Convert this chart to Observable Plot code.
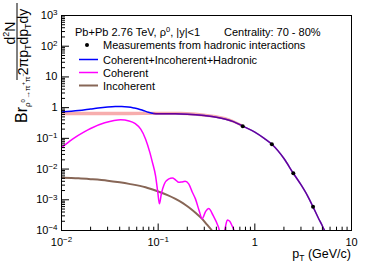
<!DOCTYPE html>
<html><head><meta charset="utf-8">
<script src="https://cdn.jsdelivr.net/npm/d3@7"></script>
<script src="https://cdn.jsdelivr.net/npm/@observablehq/plot@0.6"></script>
<style>body{margin:0;background:#fff} svg{font-family:"Liberation Sans",Arial,sans-serif}</style>
</head><body><div id="chart"></div>
<script>
// Measurements from hadronic interactions
const measPt = [0.75, 1.5, 2.5, 4.0];
const measY  = [0.25, 0.064, 0.0073, 0.00059];

// Coherent+Incoherent+Hadronic (total)
const totalPt = [0.01, 0.015, 0.02, 0.024, 0.03, 0.036, 0.042, 0.049, 0.056, 0.0625, 0.07, 0.079, 0.09, 0.1, 0.15, 0.2, 0.3, 0.4, 0.5, 0.6, 0.75, 1.0, 1.25, 1.5, 2.0, 2.5, 3.0, 3.5, 4.0, 4.5, 5.0, 5.5];
const totalY  = [0.72, 0.80, 0.90, 0.97, 1.04, 1.08, 1.09, 1.05, 0.98, 0.91, 0.81, 0.71, 0.65, 0.635, 0.63, 0.61, 0.55, 0.49, 0.42, 0.35, 0.25, 0.16, 0.10, 0.064, 0.022, 0.0073, 0.0031, 0.00137, 0.00059, 0.00027, 0.00014, 0.000075];

// Hadronic central line (visible where it merges with total)
const hadPt = [0.09, 0.1, 0.15, 0.2, 0.3, 0.4, 0.5, 0.6, 0.75, 1.0, 1.25, 1.5, 2.0, 2.5, 3.0, 3.5, 4.0, 4.5, 5.0, 5.5];
const hadY  = [0.64, 0.635, 0.63, 0.61, 0.55, 0.49, 0.42, 0.35, 0.25, 0.16, 0.10, 0.064, 0.022, 0.0073, 0.0031, 0.00137, 0.00059, 0.00027, 0.00014, 0.000075];

// Hadronic uncertainty band
const bandPt = [0.01, 0.05, 0.1, 0.15, 0.2, 0.3, 0.4, 0.5, 0.6, 0.75];
const bandLo = [0.54, 0.54, 0.55, 0.55, 0.54, 0.49, 0.44, 0.38, 0.31, 0.225];
const bandHi = [0.71, 0.71, 0.71, 0.71, 0.69, 0.62, 0.555, 0.475, 0.39, 0.275];

// Coherent
const cohPt = [0.01, 0.013, 0.017, 0.02, 0.028, 0.035, 0.041, 0.05, 0.058, 0.066, 0.074, 0.082, 0.087, 0.094, 0.099, 0.103, 0.108, 0.115, 0.129, 0.14, 0.152, 0.163, 0.175, 0.19, 0.207, 0.225, 0.243, 0.265, 0.285, 0.31, 0.333, 0.37, 0.42, 0.46, 0.49, 0.52, 0.55, 0.58, 0.61, 0.65];
const cohY  = [0.05, 0.095, 0.16, 0.21, 0.32, 0.38, 0.40, 0.37, 0.30, 0.20, 0.096, 0.035, 0.017, 0.006, 0.0018, 0.00074, 0.0016, 0.0031, 0.0048, 0.0051, 0.0044, 0.0037, 0.0038, 0.0040, 0.0033, 0.0018, 0.00107, 0.00045, 0.00024, 0.00042, 0.00052, 0.00031, 0.00013, 0.00005, 0.00011, 0.00022, 0.0002, 0.000145, 0.0001, 0.00004];

// Incoherent
const incPt = [0.01, 0.015, 0.02, 0.03, 0.04, 0.05, 0.074, 0.1, 0.125, 0.151, 0.18, 0.207, 0.245, 0.285, 0.32, 0.36, 0.4];
const incY  = [0.0052, 0.0050, 0.0047, 0.0042, 0.0037, 0.0033, 0.00257, 0.00186, 0.00142, 0.00107, 0.00078, 0.00057, 0.00037, 0.00024, 0.000155, 0.0001, 0.00006];

// Axes
const xTicks = [0.01, 0.1, 1, 10];
const xTickLabels = ["10^−2", "10^−1", "1", "10"];
const yTicks = [1e-4, 1e-3, 1e-2, 1e-1, 1, 10, 100, 1000];
const yTickLabels = ["10^−4", "10^−3", "10^−2", "10^−1", "1", "10", "10^2", "10^3"];
const xDecades = [0.01, 0.1, 1];
const yDecades = [1e-4, 1e-3, 1e-2, 1e-1, 1, 10, 100];
const minorMult = [2, 3, 4, 5, 6, 7, 8, 9];
const minorX = xDecades.flatMap(d => minorMult.map(k => d * k));
const minorY = yDecades.flatMap(d => minorMult.map(k => d * k));

const pts = (xs, ys) => xs.map((x, i) => ({x, y: ys[i]}));
const band = bandPt.map((x, i) => ({x, lo: bandLo[i], hi: bandHi[i]}));

const chart = Plot.plot({
  width: 374, height: 268,
  marginLeft: 61, marginRight: 23, marginTop: 15, marginBottom: 38,
  x: {type: "log", domain: [0.01, 10]},
  y: {type: "log", domain: [1e-4, 1e3]},
  style: {fontFamily: "Liberation Sans, Arial, sans-serif", fontSize: "11px", color: "black", background: "white"},
  marks: [
    Plot.areaY(band, {x: "x", y1: "lo", y2: "hi", fill: "#f7adad", curve: "monotone-x", clip: true}),
    Plot.line(pts(incPt, incY), {x: "x", y: "y", stroke: "#876656", strokeWidth: 2, curve: "monotone-x", clip: true}),
    Plot.line(pts(cohPt, cohY), {x: "x", y: "y", stroke: "#ff00ff", strokeWidth: 1.5, curve: "monotone-x", clip: true}),
    Plot.line(pts(totalPt, totalY), {x: "x", y: "y", stroke: "#0000ff", strokeWidth: 1.5, curve: "monotone-x", clip: true}),
    Plot.line(pts(hadPt, hadY), {x: "x", y: "y", stroke: "#ff0000", strokeOpacity: 0.4, strokeWidth: 1.5, curve: "monotone-x", clip: true}),
    Plot.dot(pts(measPt, measY), {x: "x", y: "y", r: 2, fill: "black"}),
    Plot.frame({stroke: "black"}),
    Plot.axisX(xTicks, {label: null, tickSize: -6.5, tickPadding: 14, tickFormat: d => xTickLabels[xTicks.indexOf(d)], fontSize: 11}),
    Plot.axisX(minorX, {label: null, tickSize: -3.3, tickFormat: () => ""}),
    Plot.axisY(yTicks, {label: null, tickSize: -8, tickPadding: 12, tickFormat: d => yTickLabels[yTicks.indexOf(d)], fontSize: 11}),
    Plot.axisY(minorY, {label: null, tickSize: -4, tickFormat: () => ""})
  ]
});
document.getElementById("chart").appendChild(chart);

// superscripts in tick labels
chart.querySelectorAll("text").forEach(t => {
  const s = t.textContent;
  if (s.includes("^")) {
    const [base, sup] = s.split("^");
    t.textContent = "";
    const a = document.createElementNS("http://www.w3.org/2000/svg", "tspan");
    a.textContent = base;
    const b = document.createElementNS("http://www.w3.org/2000/svg", "tspan");
    b.textContent = sup; b.setAttribute("dy", "-0.45em"); b.setAttribute("font-size", "8");
    t.appendChild(a); t.appendChild(b);
  }
});

const svg = d3.select(chart);
const ff = "Liberation Sans, Arial, sans-serif";

// X title
const xt = svg.append("text").attr("x", 351).attr("y", 258).attr("text-anchor", "end")
  .attr("font-size", 12.5).attr("font-family", ff).attr("fill", "black");
xt.append("tspan").text("p");
xt.append("tspan").attr("font-size", 8.5).attr("dy", 3).text("T");
xt.append("tspan").attr("dy", -3).text(" (GeV/c)");

// Y title (rotated)
const g = svg.append("g").attr("transform", "translate(0,268) rotate(-90)")
  .attr("font-family", ff).attr("fill", "black");
const br = g.append("text").attr("x", 145).attr("y", 27).attr("font-size", 16).attr("text-anchor", "start");
br.append("tspan").text("Br");
br.append("tspan").attr("font-size", 8).attr("dy", 3).text("ρ");
br.append("tspan").attr("font-size", 6).attr("dy", -5).text("0");
br.append("tspan").attr("font-size", 8).attr("dy", 5).text("→π");
br.append("tspan").attr("font-size", 6).attr("dy", -5).text("+");
br.append("tspan").attr("font-size", 8).attr("dy", 5).text("π");
br.append("tspan").attr("font-size", 6).attr("dy", -5).text("−");
g.append("line").attr("x1", 188).attr("x2", 265).attr("y1", 17).attr("y2", 17).attr("stroke", "black").attr("stroke-width", 1);
const num = g.append("text").attr("x", 235).attr("y", 14.5).attr("text-anchor", "middle").attr("font-size", 14);
num.append("tspan").text("d");
num.append("tspan").attr("font-size", 9).attr("dy", -6).text("2");
num.append("tspan").attr("dy", 6).text("N");
const den = g.append("text").attr("x", 226).attr("y", 28).attr("text-anchor", "middle").attr("font-size", 14);
den.append("tspan").text("2πp");
den.append("tspan").attr("font-size", 9).attr("dy", 3).text("T");
den.append("tspan").attr("dy", -3).text("dp");
den.append("tspan").attr("font-size", 9).attr("dy", 3).text("T");
den.append("tspan").attr("dy", -3).text("dy");

// Legend
const lg = svg.append("g").attr("font-family", ff).attr("font-size", 11).attr("fill", "black").attr("text-anchor", "start");
const h1 = lg.append("text").attr("x", 75).attr("y", 36);
h1.append("tspan").text("Pb+Pb 2.76 TeV, ρ");
h1.append("tspan").attr("font-size", 7.5).attr("dy", -4).text("0");
h1.append("tspan").attr("dy", 4).text(", |y|<1");
lg.append("text").attr("x", 224).attr("y", 36).text("Centrality: 70 - 80%");
const rows = [
  {label: "Measurements from hadronic interactions", y: 45, kind: "dot"},
  {label: "Coherent+Incoherent+Hadronic", y: 59.5, kind: "line", color: "#0000ff", w: 1.5},
  {label: "Coherent", y: 72.5, kind: "line", color: "#ff00ff", w: 1.5},
  {label: "Incoherent", y: 85.5, kind: "line", color: "#876656", w: 2}
];
rows.forEach(r => {
  if (r.kind === "dot") lg.append("circle").attr("cx", 87).attr("cy", r.y).attr("r", 2).attr("fill", "black");
  else lg.append("line").attr("x1", 79).attr("x2", 98).attr("y1", r.y).attr("y2", r.y).attr("stroke", r.color).attr("stroke-width", r.w);
  lg.append("text").attr("x", 103).attr("y", r.y + 4).text(r.label);
});
</script></body></html>
